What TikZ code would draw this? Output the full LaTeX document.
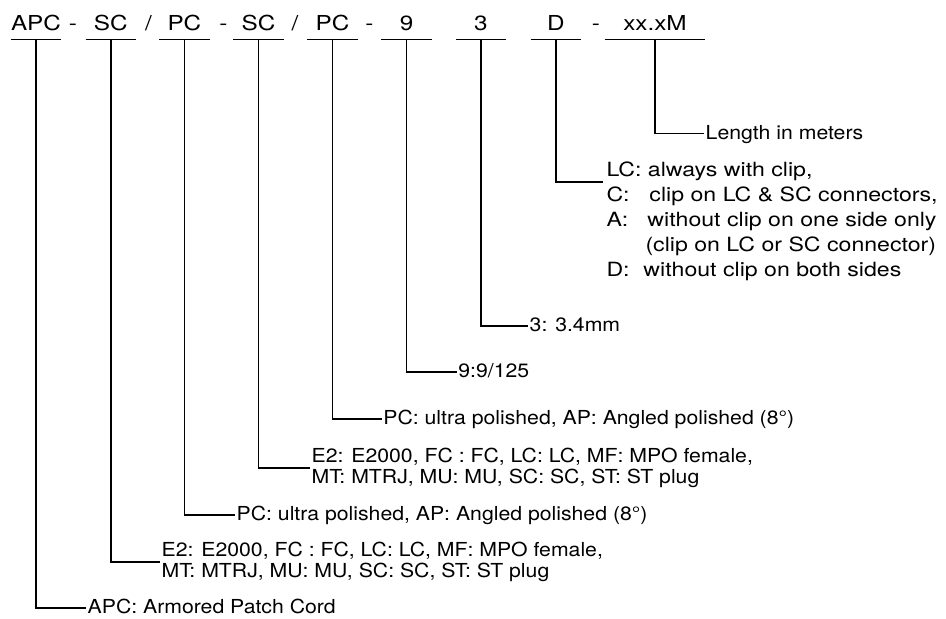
\documentclass[tikz,border=0pt]{standalone}
\usepackage{fontspec}
\setmainfont{TeX Gyre Heros}[FakeStretch=1.1]
\newfontfamily\widefont{TeX Gyre Heros}[FakeStretch=1.18]
\usepackage{tikz}
\tikzset{
  code/.style={font={\widefont\fontsize{20.6}{24}\selectfont},anchor=base,text depth=0pt,inner xsep=0pt,inner ysep=9.3pt},
  sep/.style={font={\widefont\fontsize{20.6}{24}\selectfont},anchor=base,inner sep=0pt},
  info/.style={font={\fontsize{19.3}{21}\selectfont},anchor=west,inner xsep=1.5pt,text height=11pt,text depth=0pt},
  infotwo/.style={font={\fontsize{19.3}{21}\selectfont},anchor=west,align=left,inner xsep=1.5pt,inner ysep=0pt},
  infolist/.style={font={\widefont\fontsize{19.6}{25}\selectfont},anchor=north west,align=left,inner xsep=3pt,inner ysep=0pt},
  conn/.style={line width=1.7pt},
}

\begin{document}
\begin{tikzpicture}[x=1pt,y=-1pt]
\useasboundingbox (0,0) rectangle (946,619);

% code row
\foreach \n/\x/\w/\t in {apc/36/50pt/APC, sca/110.7/50pt/SC, pca/184.4/50pt/PC,
                         scb/258.5/50pt/SC, pcb/332.6/50pt/PC, nine/406.6/50pt/9,
                         three/481/50pt/3, dcode/555.8/50pt/D, len/655/100pt/xx.xM} {
  \node[code,minimum width=\w] (\n) at (\x,30) {\t};
  \draw[conn] (\n.south west) -- (\n.south east);
}
\foreach \n/\x/\t in {sa/73/-, sb/148.5/{/}, sc/223.5/-, sd/295/{/}, se/369.5/-, sf/595.8/-} {
  \node[sep] (\n) at (\x,30) {\t};
}

% descriptions
\node[info] (apcinfo) at (86,608.3) {APC: Armored Patch Cord};
\node[infotwo] (scainfo) at (160,561.7) {E2: E2000, FC : FC, LC: LC, MF: MPO female,\\MT: MTRJ, MU: MU, SC: SC, ST: ST plug};
\node[info] (pcainfo) at (235,515) {PC: ultra polished, AP: Angled polished (8°)};
\node[infotwo] (scbinfo) at (310,467.7) {E2: E2000, FC : FC, LC: LC, MF: MPO female,\\MT: MTRJ, MU: MU, SC: SC, ST: ST plug};
\node[info] (pcbinfo) at (381.7,419.3) {PC: ultra polished, AP: Angled polished (8°)};
\node[info] (nineinfo) at (456.7,372.3) {9:9/125};
\node[info] (threeinfo) at (528,326) {3: 3.4mm};
\coordinate (dhook) at (603.3,182);
\node[infolist] (dinfo) at ([yshift=20pt]dhook) {LC: always with clip,\\
  \makebox[43pt][l]{C:}clip on LC \& SC connectors,\\
  \makebox[41pt][l]{A:}without clip on one side only\\
  \hspace*{39pt}(clip on LC or SC connector)\\
  \makebox[37pt][l]{D:}without clip on both sides};
\node[info] (leninfo) at (704,133.5) {Length in meters};

% connectors
\foreach \a/\b in {apc/apcinfo, sca/scainfo, pca/pcainfo, scb/scbinfo, pcb/pcbinfo,
                   nine/nineinfo, three/threeinfo, len/leninfo} {
  \draw[conn] (\a.south) |- (\b.west);
}
\draw[conn] (dcode.south) |- (dhook);

\end{tikzpicture}
\end{document}
